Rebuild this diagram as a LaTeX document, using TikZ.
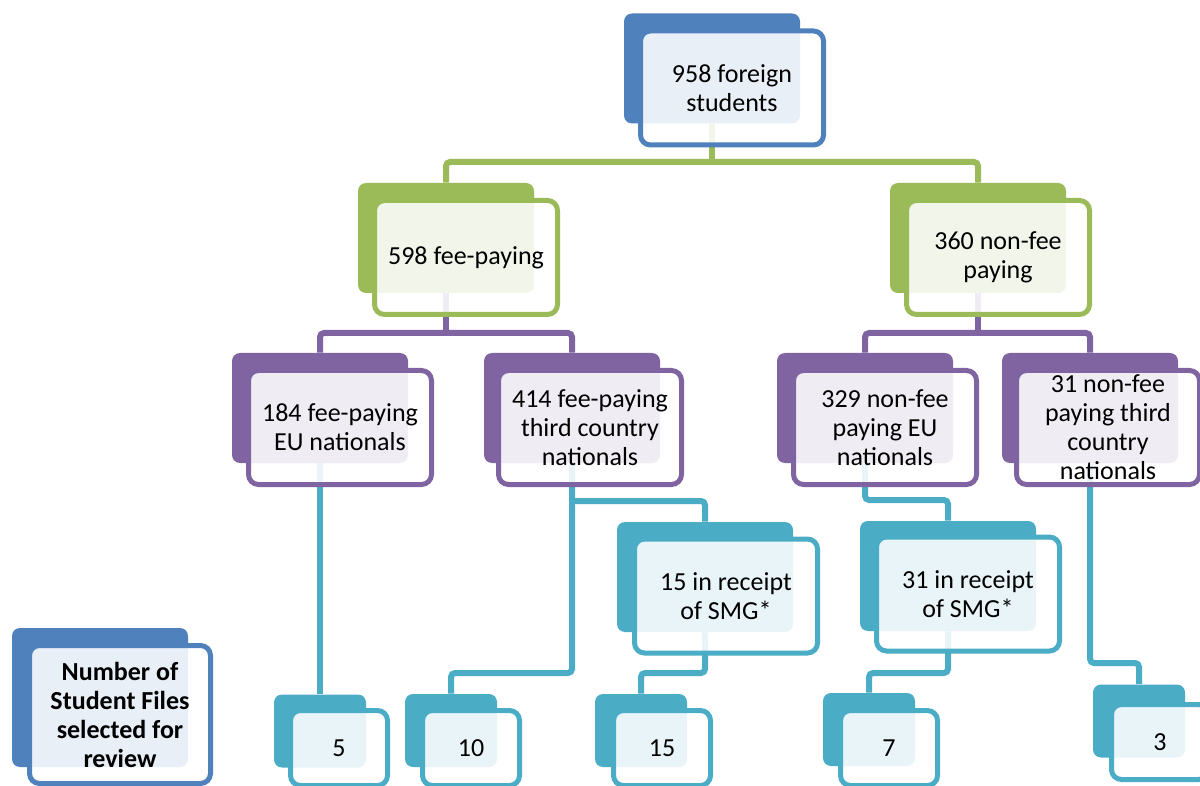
\documentclass[tikz,border=0pt]{standalone}
\usepackage{fontspec}
\setmainfont{Carlito}
\definecolor{cblue}{HTML}{4F81BD}
\definecolor{cgreen}{HTML}{9BBB59}
\definecolor{cpurple}{HTML}{8064A2}
\definecolor{cteal}{HTML}{4BACC6}
\tikzset{
  backbox/.style={fill=#1, draw=none, rounded corners=4pt, minimum width=88pt, minimum height=55pt, inner sep=0pt},
  frontbox/.style={draw=#1, fill=white, fill opacity=0.88, text opacity=1, draw opacity=1, line width=2.5pt, rounded corners=5pt, minimum width=91.5pt, minimum height=57pt, inner sep=0pt, align=center, font=\fontsize{13}{14.5}\selectfont},
  smallback/.style={backbox=#1, minimum width=46pt, minimum height=36.5pt},
  smallfront/.style={frontbox=#1, minimum width=48.5pt, minimum height=37.5pt},
  conn/.style={draw=#1, line width=3pt, rounded corners=2pt}
}
\begin{document}
\begin{tikzpicture}[x=0.5pt,y=-0.5pt]
\useasboundingbox (0,0) rectangle (1200,786);
\clip (0,0) rectangle (1200,786);
% back boxes
\node[backbox=cblue] (tb) at (712,68.5) {};
\node[backbox=cgreen] (glb) at (446,238) {};
\node[backbox=cgreen] (grb) at (978,238) {};
\node[backbox=cpurple] (p1b) at (320,408) {};
\node[backbox=cpurple] (p2b) at (572,408) {};
\node[backbox=cpurple] (p3b) at (865,408) {};
\node[backbox=cpurple] (p4b) at (1090,408) {};
\node[backbox=cteal] (s1b) at (705,577) {};
\node[backbox=cteal] (s2b) at (948,576) {};
\node[smallback=cteal] (n5b) at (320,731) {};
\node[smallback=cteal] (n10b) at (451,730.5) {};
\node[smallback=cteal] (n15b) at (641,730.5) {};
\node[smallback=cteal] (n7b) at (869,729.5) {};
\node[smallback=cteal] (n3b) at (1139,721) {};
\node[backbox=cblue, minimum height=69.5pt] (lb) at (100,697.5) {};
% connectors
\coordinate (j1) at (712,162);
\draw[conn=cgreen] (tb.south) -- (j1);
\draw[conn=cgreen] (glb.north) |- (j1) -| (grb.north);
\coordinate (j2) at (446,333);
\draw[conn=cpurple] (glb.south) -- (j2);
\draw[conn=cpurple] (p1b.north) |- (j2) -| (p2b.north);
\coordinate (j3) at (978,333);
\draw[conn=cpurple] (grb.south) -- (j3);
\draw[conn=cpurple] (p3b.north) |- (j3) -| (p4b.north);
\draw[conn=cteal] (p1b.south) -- (n5b.north);
\coordinate (j4) at (572,673);
\draw[conn=cteal] (p2b.south) -- (j4) -| (n10b.north);
\coordinate (j5) at (572,501);
\draw[conn=cteal] (j5) -| (s1b.north);
\coordinate (j6) at (705,673);
\draw[conn=cteal] (s1b.south) -- (j6) -| (n15b.north);
\coordinate (j7) at (865,500);
\draw[conn=cteal] (p3b.south) -- (j7) -| (s2b.north);
\coordinate (j8) at (948,673);
\draw[conn=cteal] (s2b.south) -- (j8) -| (n7b.north);
\coordinate (j9) at (1090,663);
\draw[conn=cteal] (p4b.south) -- (j9) -| (n3b.north);
% front boxes
\node[frontbox=cblue] (t) at (732,88) {958 foreign\\students};
\node[frontbox=cgreen] (gl) at (466,257.5) {598 fee-paying};
\node[frontbox=cgreen] (gr) at (998,257.5) {360 non-fee\\paying};
\node[frontbox=cpurple] (p1) at (340,427.5) {184 fee-paying\\EU nationals};
\node[frontbox=cpurple] (p2) at (590,427.5) {414 fee-paying\\third country\\nationals};
\node[frontbox=cpurple] (p3) at (885,427.5) {329 non-fee\\paying EU\\nationals};
\node[frontbox=cpurple] (p4) at (1108,427.5) {31 non-fee\\paying third\\country\\nationals};
\node[frontbox=cteal] (s1) at (726,596) {15 in receipt\\of SMG*};
\node[frontbox=cteal] (s2) at (968,594) {31 in receipt\\of SMG*};
\node[smallfront=cteal] (n5) at (339,748) {5};
\node[smallfront=cteal] (n10) at (471,748) {10};
\node[smallfront=cteal] (n15) at (662,748) {15};
\node[smallfront=cteal] (n7) at (889,748) {7};
\node[smallfront=cteal] (n3) at (1160,742) {3};
\node[frontbox=cblue, minimum width=90.5pt, minimum height=69pt, font=\fontsize{13}{14.5}\selectfont\bfseries] (l) at (120,714.5) {Number of\\Student Files\\selected for\\review};
\end{tikzpicture}
\end{document}
